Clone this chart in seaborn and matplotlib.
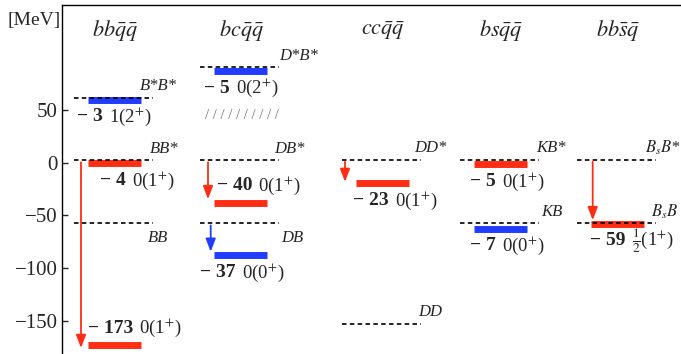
import pandas as pd
import matplotlib
matplotlib.use("Agg")
import matplotlib.pyplot as plt
import seaborn as sns

# ---- data (MeV) ----
columns = [r"$bb\bar{q}\bar{q}$", r"$bc\bar{q}\bar{q}$", r"$cc\bar{q}\bar{q}$",
           r"$bs\bar{q}\bar{q}$", r"$bb\bar{s}\bar{q}$"]

threshold_col = [0, 0, 0, 1, 1, 1, 2, 2, 3, 3, 4, 4]
threshold_name = ["B*B*", "BB*", "BB", "D*B*", "DB*", "DB", "DD*", "DD",
                  "KB*", "KB", "$B_sB$*", "$B_sB$"]
threshold_E = [62, 2.5, -57, 91, 2.5, -57.5, 3, -153, 3, -57.5, 3, -57.5]

state_col = [0, 0, 0, 1, 1, 1, 2, 3, 3, 4]
state_E = [60, -0.5, -173, 87, -38, -88, -19.6, -1.5, -63, -58]
state_binding = ["\u2212 3", "\u2212 4", "\u2212 173", "\u2212 5", "\u2212 40",
                 "\u2212 37", "\u2212 23", "\u2212 5", "\u2212 7", "\u2212 59"]
state_jp = ["1(2$^{+}$)", "0(1$^{+}$)", "0(1$^{+}$)", "0(2$^{+}$)", "0(1$^{+}$)",
            "0(0$^{+}$)", "0(1$^{+}$)", "0(1$^{+}$)", "0(0$^{+}$)",
            r"$\frac{1}{2}$(1$^{+}$)"]
state_kind = ["blue", "red", "red", "blue", "red", "blue", "red", "red", "blue", "red"]

# arrows: (threshold index, state index)
arrows = [(1, 2), (4, 4), (5, 5), (6, 6), (10, 9)]

# ---- layout (pixel-like x units) ----
dash_left = [74, 200, 342, 460, 577]
DASH_W = 79
BAR_OFF = 14
BAR_W = 53
thr_dx = [-13, -3, -5, 0, -5, 2, -7, -3, -3, 2, -11, -5]
thr_below = [False, False, True, False, False, True, False, False, False, False, False, False]
lab_dx = [3, 26, 14, 4, 17, 0, 11, 10, 10, 13]
lab_above = [False, False, True, False, True, False, False, False, False, False]
arrow_dx = [7, 8, 10.7, 3, 15.7]
arrow_gap = [-3, 3.5, 3.5, 1.5, 3.5]

RED = "#ff2d14"
BLUE = "#1f3cff"

sns.set_theme(style="ticks")
plt.rcParams["font.family"] = ["Liberation Serif", "DejaVu Serif"]
plt.rcParams["mathtext.fontset"] = "stix"

fig = plt.figure(figsize=(6.81, 3.54), dpi=100)
ax = fig.add_axes([62 / 681, 0, 619 / 681, 349 / 354])

# state bars
rows = []
for i, (c, e, k) in enumerate(zip(state_col, state_E, state_kind)):
    x0 = dash_left[c] + BAR_OFF
    rows.append({"id": i, "x": x0, "E": e, "kind": k})
    rows.append({"id": i, "x": x0 + BAR_W, "E": e, "kind": k})
bars = pd.DataFrame(rows)
sns.lineplot(data=bars, x="x", y="E", units="id", estimator=None, hue="kind",
             palette={"red": RED, "blue": BLUE}, lw=5, legend=False, sort=False,
             solid_capstyle="butt", ax=ax, zorder=2)

# thresholds
for c, name, e, dx, below in zip(threshold_col, threshold_name, threshold_E, thr_dx, thr_below):
    x0 = dash_left[c]
    ax.hlines(e, x0, x0 + DASH_W, colors="black", lw=1.2,
              linestyles=(0, (2.7, 2.0)), zorder=3)
    ty = e - 14 if below else e + 11
    ax.text(x0 + DASH_W + dx, ty, name, fontsize=12, style="italic",
            ha="left", va="center")

# state labels
for c, e, b, jp, dx, above in zip(state_col, state_E, state_binding, state_jp, lab_dx, lab_above):
    ty = e + 16 if above else e - 16
    t = ax.text(dash_left[c] + dx, ty, b, fontsize=14, fontweight="bold",
                ha="left", va="center")
    ax.annotate(jp, xy=(1, 0.5), xycoords=t, xytext=(6, 0),
                textcoords="offset pixels", fontsize=13.5, ha="left", va="center")

# arrows
for (ti, si), dx, gap in zip(arrows, arrow_dx, arrow_gap):
    c = state_col[si]
    x = dash_left[c] + dx
    color = RED if state_kind[si] == "red" else BLUE
    ax.annotate("", xy=(x, state_E[si] + gap), xytext=(x, threshold_E[ti] - 2),
                arrowprops=dict(arrowstyle="-|>,head_length=0.65,head_width=0.25",
                                color=color, lw=1.3, shrinkA=0, shrinkB=0,
                                mutation_scale=12), zorder=4)

# column titles
for c, name in enumerate(columns):
    ax.text(dash_left[c] + 41, 126, name, fontsize=16, ha="center", va="center")

ax.text(dash_left[1] + 5, 45, "/ " * 10, fontsize=10.5, color="#6f6f6f",
        ha="left", va="center")

fig.text(34 / 681, 1 - 20 / 354, "[MeV]", fontsize=14, ha="center", va="center")

ax.set_xlim(62, 681)
ax.set_ylim(-181.7, 150)
ax.set_xticks([])
ax.set_yticks([50, 0, -50, -100, -150])
ax.set_yticklabels(["50", "0", "\u221250", "\u2212100", "\u2212150"])
ax.tick_params(axis="y", direction="in", length=4, width=1, labelsize=15, pad=3)
ax.set_xlabel("")
ax.set_ylabel("")
sns.despine(ax=ax, top=False, right=True, bottom=True)
for s in ("left", "top"):
    ax.spines[s].set_linewidth(1.0)
    ax.spines[s].set_color("black")

fig.savefig("out.png", dpi=100)
